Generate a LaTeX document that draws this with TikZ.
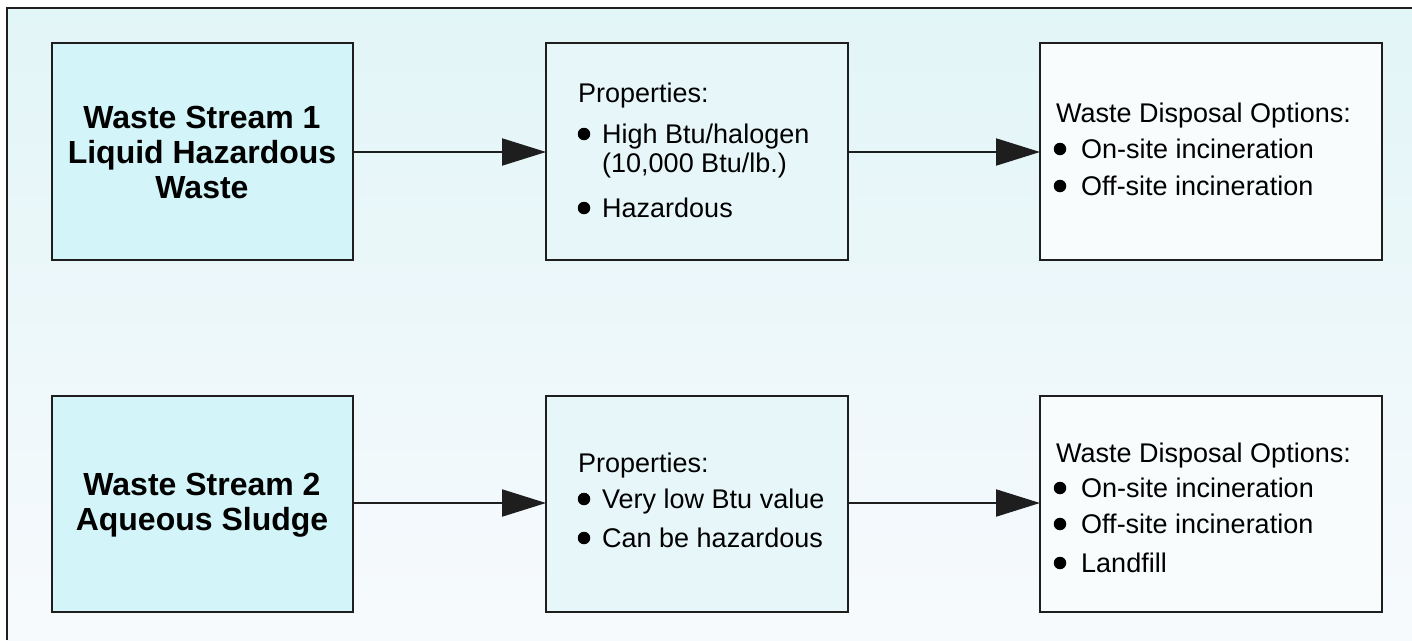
\documentclass[tikz,border=0pt]{standalone}
\usepackage{fontspec}
\setmainfont{Liberation Sans}
\usetikzlibrary{arrows.meta}
\definecolor{bgtop}{HTML}{E2F5F7}
\definecolor{bgbot}{HTML}{F7FAFD}
\definecolor{fillA}{HTML}{D3F5F9}
\definecolor{fillB}{HTML}{E7F7F9}
\definecolor{fillC}{HTML}{F8FCFD}
\definecolor{edge}{HTML}{1E1E1E}
\tikzset{
  boxA/.style={draw=edge, line width=2.4pt, fill=fillA},
  boxB/.style={draw=edge, line width=2.4pt, fill=fillB},
  boxC/.style={draw=edge, line width=2.4pt, fill=fillC},
  btext/.style={align=center, inner sep=0pt, font=\fontsize{32}{35}\selectfont\bfseries, text=black},
  ltext/.style={anchor=base west, inner sep=0pt, font=\fontsize{27}{33}\selectfont, text=black},
  dot/.style={circle, fill=black, inner sep=0pt, minimum size=12.5pt},
  conn/.style={line width=2pt, draw=edge, -{Triangle[length=44pt,width=27pt]}, shorten >=0pt}
}
\begin{document}
\begin{tikzpicture}[x=1pt,y=-1pt]
\useasboundingbox (0,0) rectangle (1412,640);
\fill[white] (0,0) rectangle (1412,640);
\shade[top color=bgtop, bottom color=bgbot] (7,8) rectangle (1412,640);
\draw[line width=2.4pt, edge] (7,640) -- (7,8) -- (1412,8);

% row 1 boxes
\path[boxA] (52,43) rectangle (353,260);
\path[boxB] (546,43) rectangle (848,260);
\path[boxC] (1040,43) rectangle (1382,260);
\coordinate (a1e) at (353,152);
\coordinate (b1w) at (546,152);
\coordinate (b1e) at (848,152);
\coordinate (c1w) at (1040,152);

% row 2 boxes
\path[boxA] (52,396) rectangle (353,612);
\path[boxB] (546,396) rectangle (848,612);
\path[boxC] (1040,396) rectangle (1382,612);
\coordinate (a2e) at (353,503);
\coordinate (b2w) at (546,503);
\coordinate (b2e) at (848,503);
\coordinate (c2w) at (1040,503);

% connectors
\draw[conn] (a1e) -- (b1w);
\draw[conn] (b1e) -- (c1w);
\draw[conn] (a2e) -- (b2w);
\draw[conn] (b2e) -- (c2w);

% box A texts
\node[btext] (a1t) at (202,152) {Waste Stream 1\\Liquid Hazardous\\Waste};
\node[btext] (a2t) at (202,505) {Waste Stream 2\\Aqueous Sludge};

% box B1
\node[ltext] (b1h) at (578,102) {Properties:};
\node[dot] (b1d1) at (584,134) {};
\node[ltext] (b1l1) at (602,143) {High Btu/halogen};
\node[ltext] (b1l2) at (602,172) {(10,000 Btu/lb.)};
\node[dot] (b1d2) at (584,208) {};
\node[ltext] (b1l3) at (602,217) {Hazardous};

% box C1
\node[ltext] (c1h) at (1056,122) {Waste Disposal Options:};
\node[dot] (c1d1) at (1060,149) {};
\node[ltext] (c1l1) at (1081,158) {On-site incineration};
\node[dot] (c1d2) at (1060,186) {};
\node[ltext] (c1l2) at (1081,195) {Off-site incineration};

% box B2
\node[ltext] (b2h) at (578,472) {Properties:};
\node[dot] (b2d1) at (584,499) {};
\node[ltext] (b2l1) at (602,508) {Very low Btu value};
\node[dot] (b2d2) at (584,538) {};
\node[ltext] (b2l2) at (602,547) {Can be hazardous};

% box C2
\node[ltext] (c2h) at (1056,462) {Waste Disposal Options:};
\node[dot] (c2d1) at (1060,488) {};
\node[ltext] (c2l1) at (1081,497) {On-site incineration};
\node[dot] (c2d2) at (1060,524) {};
\node[ltext] (c2l2) at (1081,533) {Off-site incineration};
\node[dot] (c2d3) at (1060,563) {};
\node[ltext] (c2l3) at (1081,572) {Landfill};
\end{tikzpicture}
\end{document}
